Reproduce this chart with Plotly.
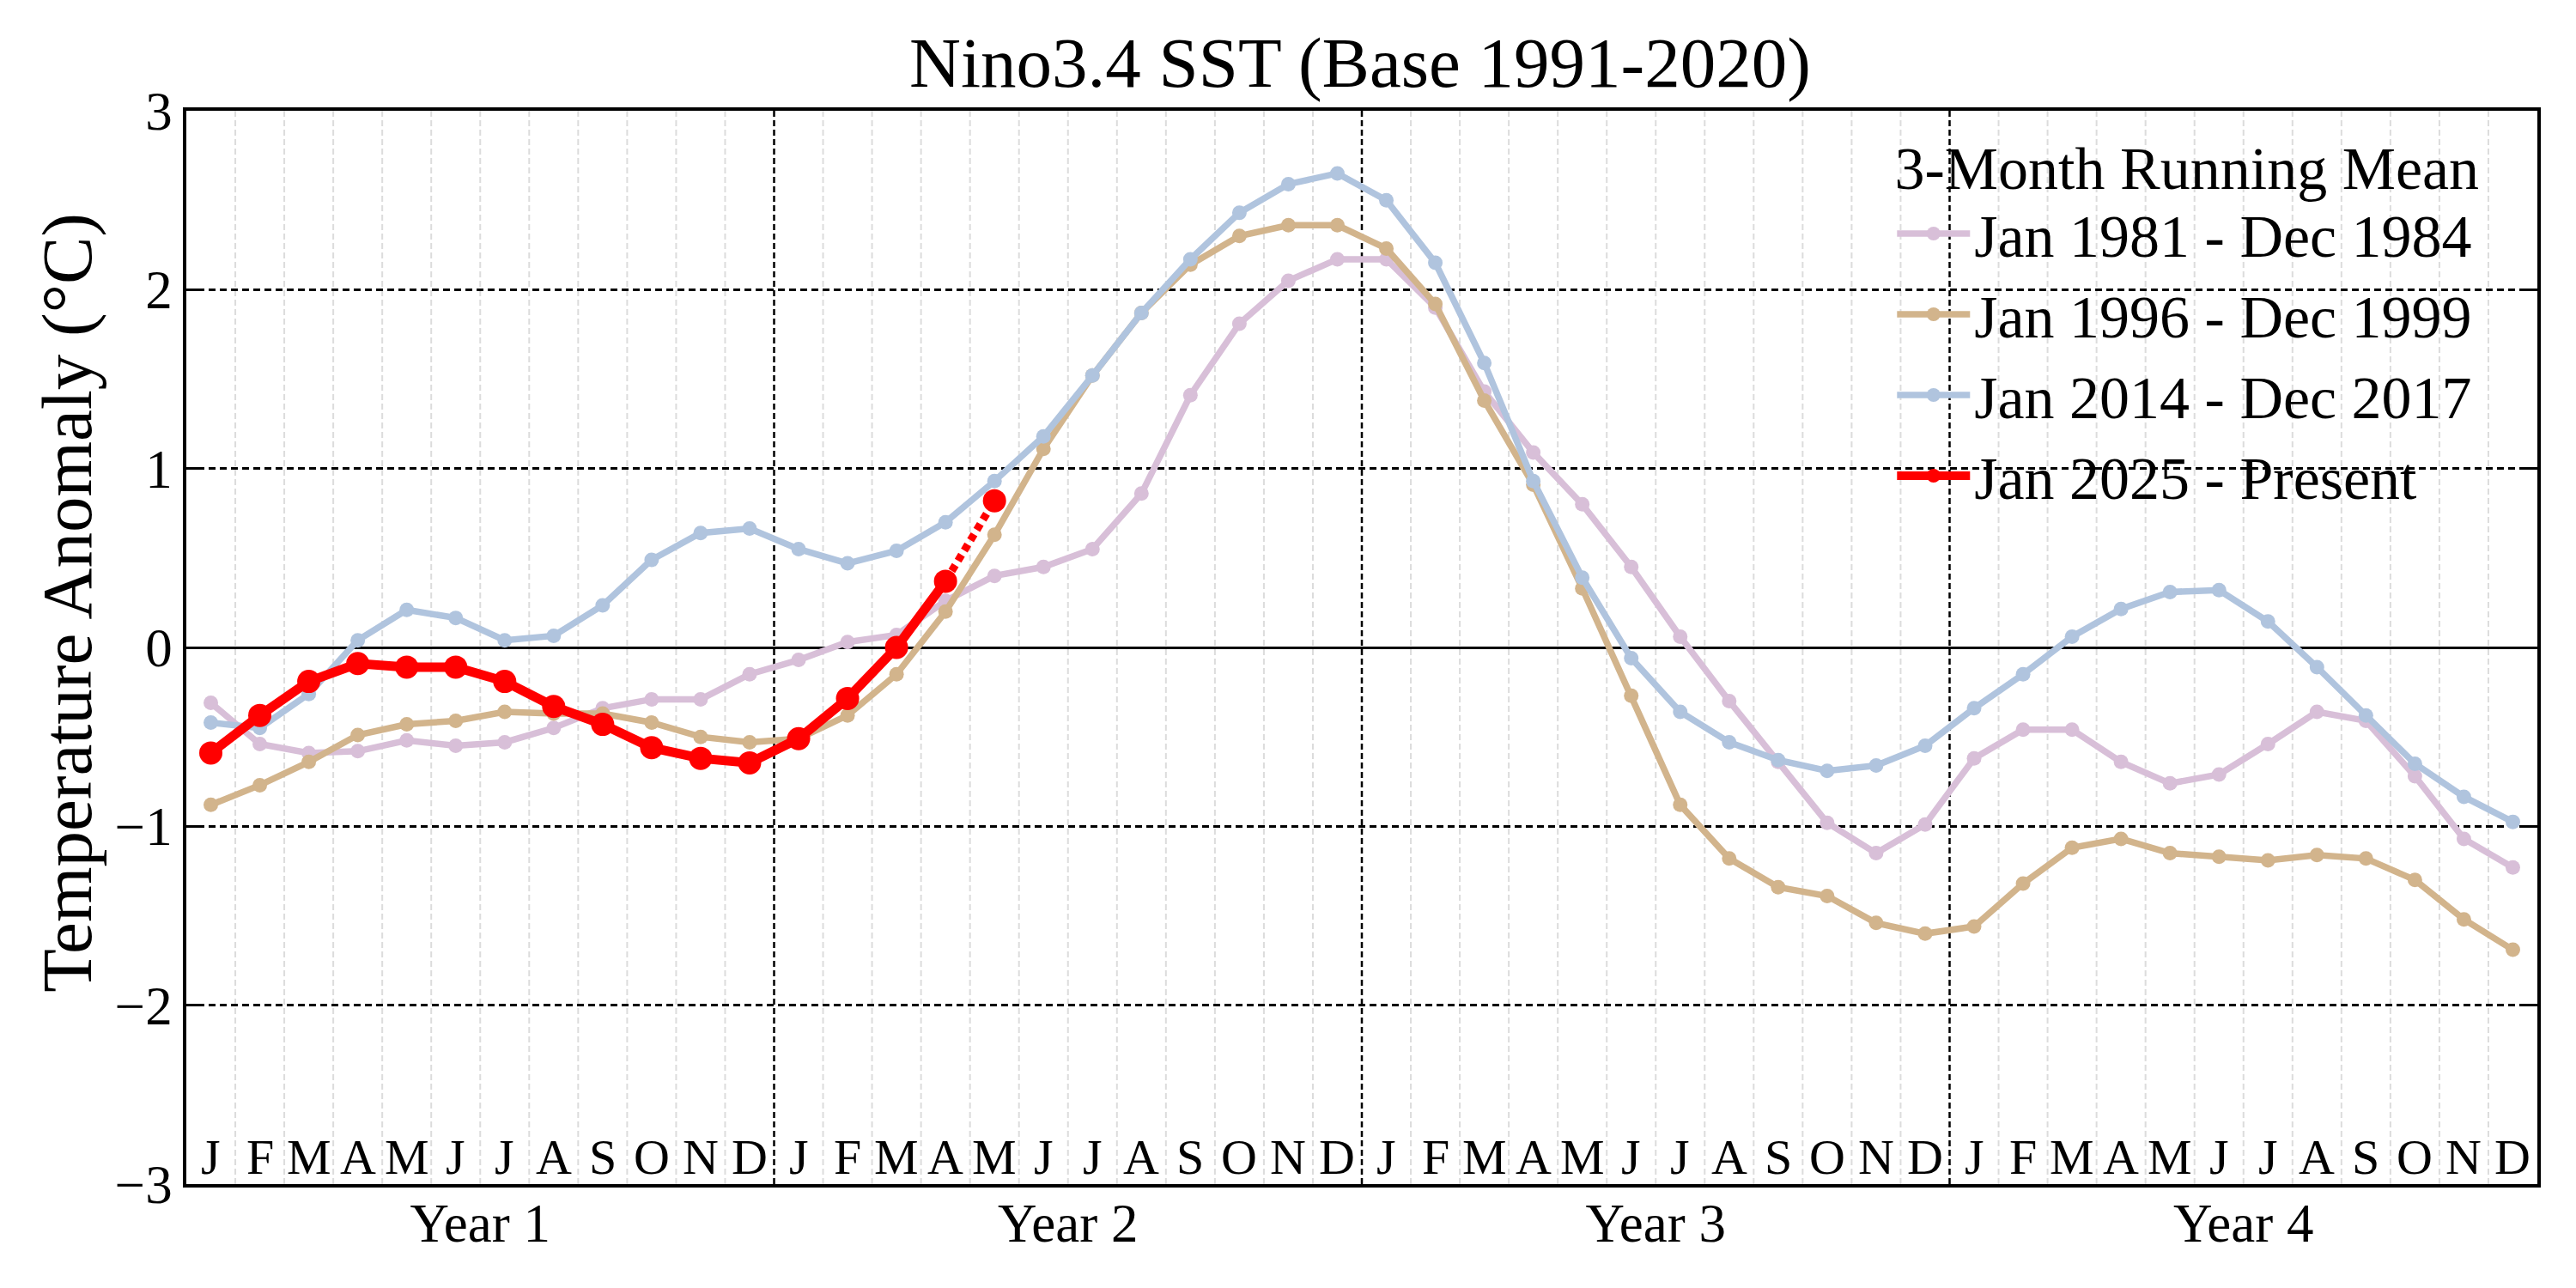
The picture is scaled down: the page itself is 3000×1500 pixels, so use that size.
import plotly.graph_objects as go

FONT = "Liberation Serif"

MONTH_LETTERS = ["J", "F", "M", "A", "M", "J", "J", "A", "S", "O", "N", "D"]
YEAR_LABELS = ["Year 1", "Year 2", "Year 3", "Year 4"]
N_MONTHS = 48
Y_TITLE = "Temperature Anomaly (°C)"

S1981_NAME = "Jan 1981 - Dec 1984"
S1981 = [-0.31, -0.54, -0.59, -0.58, -0.52, -0.55, -0.53, -0.45, -0.34, -0.29, -0.29, -0.15,
         -0.07, 0.03, 0.07, 0.26, 0.40, 0.45, 0.55, 0.86, 1.41, 1.81, 2.05, 2.17,
         2.17, 1.90, 1.43, 1.09, 0.80, 0.45, 0.06, -0.30, -0.64, -0.98, -1.15, -0.99,
         -0.62, -0.46, -0.46, -0.64, -0.76, -0.71, -0.54, -0.36, -0.41, -0.72, -1.07, -1.23]

S1996_NAME = "Jan 1996 - Dec 1999"
S1996 = [-0.88, -0.77, -0.64, -0.49, -0.43, -0.41, -0.36, -0.37, -0.37, -0.42, -0.50, -0.53,
         -0.51, -0.38, -0.15, 0.20, 0.63, 1.11, 1.52, 1.87, 2.14, 2.30, 2.36, 2.36,
         2.23, 1.92, 1.38, 0.91, 0.33, -0.27, -0.88, -1.18, -1.34, -1.39, -1.54, -1.60,
         -1.56, -1.32, -1.12, -1.07, -1.15, -1.17, -1.19, -1.16, -1.18, -1.30, -1.52, -1.69]

S2014_NAME = "Jan 2014 - Dec 2017"
S2014 = [-0.42, -0.45, -0.26, 0.04, 0.21, 0.165, 0.04, 0.065, 0.235, 0.49, 0.64, 0.665,
         0.55, 0.47, 0.54, 0.70, 0.93, 1.18, 1.52, 1.87, 2.17, 2.43, 2.59, 2.65,
         2.50, 2.15, 1.59, 0.93, 0.39, -0.06, -0.36, -0.53, -0.63, -0.69, -0.66, -0.55,
         -0.34, -0.15, 0.06, 0.215, 0.31, 0.32, 0.145, -0.11, -0.38, -0.65, -0.835, -0.975]

S2025_NAME = "Jan 2025 - Present"
S2025 = [-0.59, -0.38, -0.19, -0.09, -0.11, -0.11, -0.19, -0.33, -0.43, -0.56, -0.62, -0.645,
         -0.51, -0.285, 0.0, 0.37, 0.82]
N_SOLID_2025 = 16  # last point joined with a dotted segment

COLORS = {"1981": "#d8bfd8", "1996": "#d2b48c", "2014": "#b0c4de", "2025": "#ff0000"}

months = list(range(N_MONTHS))
fig = go.Figure()

for name, vals, key in [(S1981_NAME, S1981, "1981"), (S1996_NAME, S1996, "1996"),
                        (S2014_NAME, S2014, "2014")]:
    fig.add_trace(go.Scatter(
        x=months[:len(vals)], y=vals, name=name, mode="lines+markers",
        line=dict(color=COLORS[key], width=7.5),
        marker=dict(color=COLORS[key], size=17),
    ))

xs25 = months[:len(S2025)]
fig.add_trace(go.Scatter(
    x=xs25[:N_SOLID_2025], y=S2025[:N_SOLID_2025], name=S2025_NAME, mode="lines+markers",
    line=dict(color=COLORS["2025"], width=11),
    marker=dict(color=COLORS["2025"], size=27),
))
fig.add_trace(go.Scatter(
    x=xs25[N_SOLID_2025 - 1:], y=S2025[N_SOLID_2025 - 1:], mode="lines",
    line=dict(color=COLORS["2025"], width=9, dash="8px,6px"),
    showlegend=False, hoverinfo="skip",
))
fig.add_trace(go.Scatter(
    x=xs25[-1:], y=S2025[-1:], mode="markers",
    marker=dict(color=COLORS["2025"], size=27),
    showlegend=False, hoverinfo="skip",
))

shapes = []
for i in range(N_MONTHS - 1):
    b = i + 0.5
    if (i + 1) % 12 == 0:
        shapes.append(dict(type="line", xref="x", yref="paper", x0=b, x1=b, y0=0, y1=1,
                           line=dict(color="black", width=2.5, dash="7px,4px"), layer="below"))
    else:
        shapes.append(dict(type="line", xref="x", yref="paper", x0=b, x1=b, y0=0, y1=1,
                           line=dict(color="#dcdcdc", width=2, dash="7px,4px"), layer="below"))

annotations = []
for i in range(N_MONTHS):
    annotations.append(dict(x=i, y=-2.85, xref="x", yref="y", text=MONTH_LETTERS[i % 12],
                            showarrow=False, font=dict(family=FONT, size=58, color="black"),
                            xanchor="center", yanchor="middle"))
annotations.append(dict(x=-0.051, y=0.542, xref="paper", yref="paper", text=Y_TITLE,
                        textangle=-90, showarrow=False, xanchor="center", yanchor="middle",
                        font=dict(family=FONT, size=83, color="black")))

fig.update_layout(
    width=3000, height=1500,
    paper_bgcolor="white", plot_bgcolor="white",
    margin=dict(l=217, r=45, t=129, b=121),
    font=dict(family=FONT, color="black", size=62),
    title=dict(text="Nino3.4 SST (Base 1991-2020)", x=0.528, xanchor="center",
               y=0.952, yanchor="middle", yref="container",
               font=dict(family=FONT, size=83, color="black")),
    shapes=shapes,
    annotations=annotations,
    showlegend=True,
    legend=dict(x=0.976, xanchor="right", y=1.0, yanchor="top",
                bgcolor="rgba(0,0,0,0)", borderwidth=0, itemwidth=85,
                font=dict(family=FONT, size=70, color="black"),
                title=dict(text="3-Month Running Mean", side="top center",
                           font=dict(family=FONT, size=70, color="black"))),
)

fig.update_xaxes(
    range=[-0.5, N_MONTHS - 0.5],
    tickmode="array", tickvals=[5.5 + 12 * k for k in range(4)], ticktext=YEAR_LABELS,
    ticks="", showgrid=False, zeroline=False,
    showline=True, linecolor="black", linewidth=3.5, mirror=True,
    tickfont=dict(family=FONT, size=63, color="black"),
    ticklabelstandoff=-12,
)
fig.update_yaxes(
    range=[-3, 3], dtick=1, tick0=0,
    showgrid=True, gridcolor="black", gridwidth=2.5, griddash="8px,5px",
    zeroline=True, zerolinecolor="black", zerolinewidth=2.5,
    showline=True, linecolor="black", linewidth=3.5, mirror="ticks",
    ticks="inside", ticklen=14, tickwidth=2.5, tickcolor="black",
    tickfont=dict(family=FONT, size=63, color="black"),
    ticklabelstandoff=0,
)

fig.write_html("out.html")
